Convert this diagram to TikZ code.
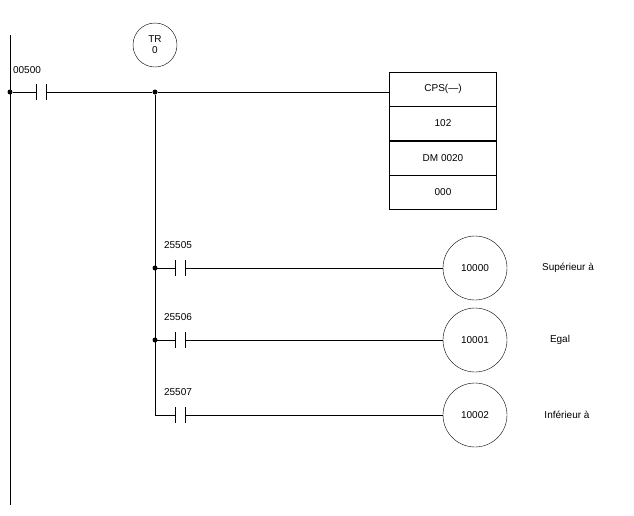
\documentclass[tikz,border=0pt]{standalone}
\usepackage{fontspec}
\setmainfont{Liberation Sans}
\usetikzlibrary{positioning}

\begin{document}
\begin{tikzpicture}[x=1pt,y=-1pt,font=\fontsize{10}{11}\selectfont,
  coil/.style={draw,circle,minimum size=64pt,inner sep=0pt},
  cell/.style={draw,minimum width=107pt,minimum height=34pt,inner sep=0pt}]
  \useasboundingbox (0,0) rectangle (634,515);
  \tikzset{dot/.style={fill,circle,inner sep=0pt,minimum size=5pt}}
  \newcommand{\contact}[3]{% name, x, y
    \coordinate (#1a) at (#2,#3);
    \coordinate (#1b) at (#2+10,#3);
    \draw (#2,#3-8) -- (#2,#3+8);
    \draw (#2+10,#3-8) -- (#2+10,#3+8);
  }

  % rail
  \coordinate (top) at (10,35);
  \coordinate (bot) at (10,505);
  \draw[line width=0.9pt] (top) -- (bot);

  % first rung
  \node[dot] (j0) at (10,92) {};
  \contact{c0}{36}{92}
  \node (l0) at (27,70) {00500};
  \node[dot] (j1) at (155,92) {};
  \node[draw,circle,minimum size=44pt,inner sep=0pt,align=center] (tr) at (155,45) {TR\\0};
  \node[cell] (b1) at (443,89) {CPS(---)};
  \node[cell,below=0pt of b1] (b2) {102};
  \node[cell,below=0pt of b2] (b3) {DM 0020};
  \node[cell,below=0pt of b3] (b4) {000};
  \coordinate (e1) at (j1-|b1.west);
  \draw (j0) -- (c0a) (c0b) -- (j1) -- (e1);

  % branches
  \coordinate (j4) at (155,415);
  \draw (j1) -- (j4);
  \foreach \n/\y/\lab/\out/\txt/\tx in {
      2/268/25505/10000/Supérieur à/568,
      3/340/25506/10001/Egal/560,
      4/415/25507/10002/Inférieur à/567} {
    \contact{c\n}{175}{\y}
    \node (l\n) at (178,\y-23) {\lab};
    \node[coil] (o\n) at (475,\y) {\out};
    \node (t\n) at (\tx,\y) {\txt};
    \draw (155,\y) -- (c\n a) (c\n b) -- (o\n);
  }
  \node[dot] at (155,268) {};
  \node[dot] at (155,340) {};
\end{tikzpicture}
\end{document}
